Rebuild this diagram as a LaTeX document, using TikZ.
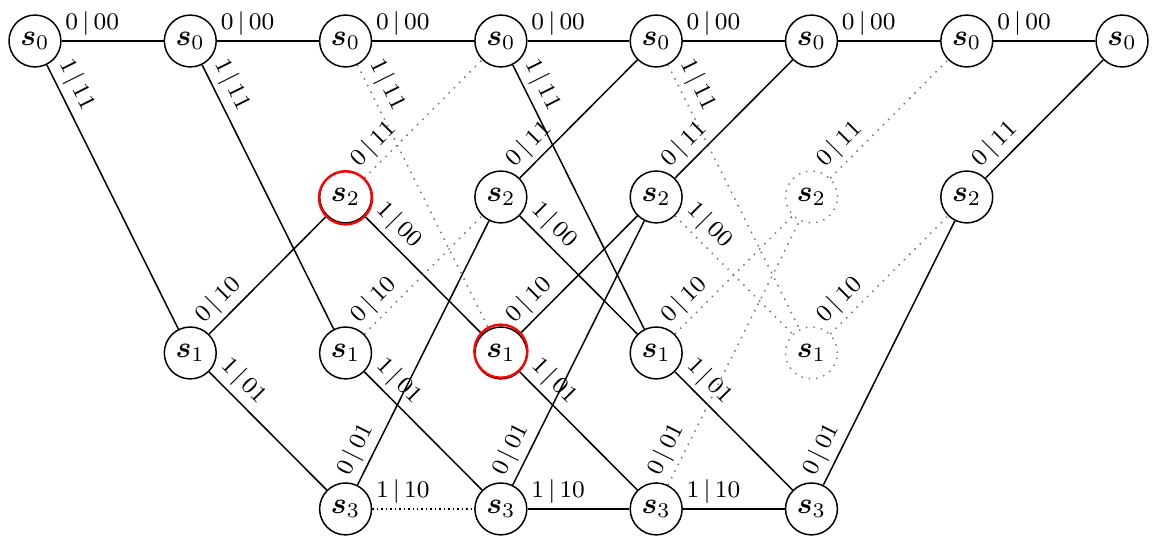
\documentclass[tikz,border=0pt]{standalone}
\usepackage{amsmath}
\usepackage{xcolor}
\usepackage{tikz}
\usetikzlibrary{positioning}

\begin{document}
\begin{tikzpicture}[
  x=1.83cm,y=1.838cm,line width=0.5pt,
  st/.style={circle,draw,inner sep=0pt,minimum size=17.4pt},
  ghost/.style={st,draw=black!50,dotted},
  off/.style={dotted,draw=black!55},
  lbl/.style={font=\fontsize{8.5}{10}\selectfont,sloped,above,inner sep=1.6pt},
  hl/.style={draw=red,line width=0.8pt}]
  \useasboundingbox (-0.412cm,0.483cm) rectangle (13.163cm,-5.833cm);
  % state s0
  \node[st] (a0) at (0,0) {$\boldsymbol{s}_0$};
  \node[st] (a1) at (1,0) {$\boldsymbol{s}_0$};
  \node[st] (a2) at (2,0) {$\boldsymbol{s}_0$};
  \node[st] (a3) at (3,0) {$\boldsymbol{s}_0$};
  \node[st] (a4) at (4,0) {$\boldsymbol{s}_0$};
  \node[st] (a5) at (5,0) {$\boldsymbol{s}_0$};
  \node[st] (a6) at (6,0) {$\boldsymbol{s}_0$};
  \node[st] (a7) at (7,0) {$\boldsymbol{s}_0$};
  % state s2
  \node[st] (b2) at (2,-1) {$\boldsymbol{s}_2$};
  \node[st] (b3) at (3,-1) {$\boldsymbol{s}_2$};
  \node[st] (b4) at (4,-1) {$\boldsymbol{s}_2$};
  \node[ghost] (b5) at (5,-1) {$\boldsymbol{s}_2$};
  \node[st] (b6) at (6,-1) {$\boldsymbol{s}_2$};
  % state s1
  \node[st] (c1) at (1,-2) {$\boldsymbol{s}_1$};
  \node[st] (c2) at (2,-2) {$\boldsymbol{s}_1$};
  \node[st] (c3) at (3,-2) {$\boldsymbol{s}_1$};
  \node[st] (c4) at (4,-2) {$\boldsymbol{s}_1$};
  \node[ghost] (c5) at (5,-2) {$\boldsymbol{s}_1$};
  % state s3
  \node[st] (d2) at (2,-3) {$\boldsymbol{s}_3$};
  \node[st] (d3) at (3,-3) {$\boldsymbol{s}_3$};
  \node[st] (d4) at (4,-3) {$\boldsymbol{s}_3$};
  \node[st] (d5) at (5,-3) {$\boldsymbol{s}_3$};
  % s0 -> s0
  \draw (a0) -- node[lbl,pos=.3]{$0\,|\,00$} (a1); \draw (a1) -- node[lbl,pos=.3]{$0\,|\,00$} (a2);
  \draw (a2) -- node[lbl,pos=.3]{$0\,|\,00$} (a3); \draw (a3) -- node[lbl,pos=.3]{$0\,|\,00$} (a4);
  \draw (a4) -- node[lbl,pos=.3]{$0\,|\,00$} (a5); \draw (a5) -- node[lbl,pos=.3]{$0\,|\,00$} (a6);
  \draw (a6) -- node[lbl,pos=.3]{$0\,|\,00$} (a7);
  % s0 -> s1
  \draw (a0) -- node[lbl,pos=.105]{$1\,|\,11$} (c1); \draw (a1) -- node[lbl,pos=.105]{$1\,|\,11$} (c2);
  \draw[off] (a2) -- node[lbl,pos=.105,black]{$1\,|\,11$} (c3); \draw (a3) -- node[lbl,pos=.105]{$1\,|\,11$} (c4);
  \draw[off] (a4) -- node[lbl,pos=.105,black]{$1\,|\,11$} (c5);
  % s2 -> s0
  \draw[off] (b2) -- node[lbl,pos=.185,black]{$0\,|\,11$} (a3); \draw (b3) -- node[lbl,pos=.185]{$0\,|\,11$} (a4);
  \draw (b4) -- node[lbl,pos=.185]{$0\,|\,11$} (a5); \draw[off] (b5) -- node[lbl,pos=.185,black]{$0\,|\,11$} (a6);
  \draw (b6) -- node[lbl,pos=.185]{$0\,|\,11$} (a7);
  % s2 -> s1
  \draw (b2) -- node[lbl,pos=.185]{$1\,|\,00$} (c3); \draw (b3) -- node[lbl,pos=.185]{$1\,|\,00$} (c4);
  \draw[off] (b4) -- node[lbl,pos=.185,black]{$1\,|\,00$} (c5);
  % s1 -> s2
  \draw (c1) -- node[lbl,pos=.185]{$0\,|\,10$} (b2); \draw[off] (c2) -- node[lbl,pos=.185,black]{$0\,|\,10$} (b3);
  \draw (c3) -- node[lbl,pos=.185]{$0\,|\,10$} (b4); \draw[off] (c4) -- node[lbl,pos=.185,black]{$0\,|\,10$} (b5);
  \draw[off] (c5) -- node[lbl,pos=.185,black]{$0\,|\,10$} (b6);
  % s1 -> s3
  \draw (c1) -- node[lbl,pos=.185]{$1\,|\,01$} (d2); \draw (c2) -- node[lbl,pos=.185]{$1\,|\,01$} (d3);
  \draw (c3) -- node[lbl,pos=.185]{$1\,|\,01$} (d4); \draw (c4) -- node[lbl,pos=.185]{$1\,|\,01$} (d5);
  % s3 -> s2
  \draw (d2) -- node[lbl,pos=.105]{$0\,|\,01$} (b3); \draw (d3) -- node[lbl,pos=.105]{$0\,|\,01$} (b4);
  \draw[off] (d4) -- node[lbl,pos=.105,black]{$0\,|\,01$} (b5); \draw (d5) -- node[lbl,pos=.105]{$0\,|\,01$} (b6);
  % s3 -> s3
  \draw[densely dotted] (d2) -- node[lbl,pos=.3]{$1\,|\,10$} (d3);
  \draw (d3) -- node[lbl,pos=.3]{$1\,|\,10$} (d4); \draw (d4) -- node[lbl,pos=.3]{$1\,|\,10$} (d5);
  % marked states
  \draw[hl] ([yshift=-0.3pt]b2.center) circle (8.9pt);
  \draw[hl] ([yshift=0.6pt]c3.center) circle (8.9pt);
\end{tikzpicture}
\end{document}
